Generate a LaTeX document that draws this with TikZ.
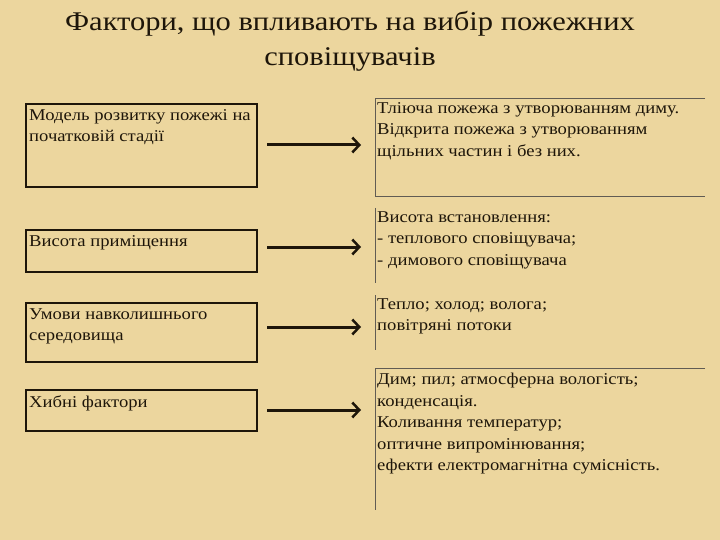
\documentclass[tikz,border=0pt]{standalone}
\usepackage{fontspec}
\setmainfont{Liberation Serif}[FakeStretch=1.13]
\definecolor{bg}{RGB}{236,214,158}
\definecolor{ink}{RGB}{30,22,10}
\usetikzlibrary{arrows.meta}
\tikzset{
  lbox/.style={draw=ink,line width=1.3pt},
  rline/.style={draw=ink!70,line width=0.7pt},
  txt/.style={anchor=north west,align=left,font=\fontsize{16.5}{21.5}\selectfont,text=ink,inner sep=0pt},
  arr/.style={draw=ink,line width=3pt,-{Straight Barb[length=7pt,width=15pt,line width=2.5pt]}},
}
\begin{document}
\begin{tikzpicture}[x=1pt,y=-1pt]
\fill[bg] (0,0) rectangle (720,540);
\useasboundingbox (0,0) rectangle (720,540);
\node[font=\fontsize{27}{35}\selectfont,align=center,text=ink] (title) at (350,41) {Фактори, що впливають на вибір пожежних\\сповіщувачів};
\draw[lbox] (26,104) rectangle (257,187);
\draw[lbox] (26,230) rectangle (257,272);
\draw[lbox] (26,303) rectangle (257,362);
\draw[lbox] (26,390) rectangle (257,431);
\node[txt] (l1) at (29,109) {Модель розвитку пожежі на\\початковій стадії};
\node[txt] (l2) at (29,235) {Висота приміщення};
\node[txt] (l3) at (29,308) {Умови навколишнього\\середовища};
\node[txt] (l4) at (29,395) {Хибні фактори};
\draw[rline] (705,98) -- (375,98) -- (375,196) -- (705,196);
\draw[rline] (375,208) -- (375,283);
\draw[rline] (375,295) -- (375,350);
\draw[rline] (705,368) -- (375,368) -- (375,510);
\node[txt] (r1) at (377,102) {Тліюча пожежа з утворюванням диму.\\Відкрита пожежа з утворюванням\\щільних частин і без них.};
\node[txt] (r2) at (377,211) {Висота встановлення:\\- теплового сповіщувача;\\- димового сповіщувача};
\node[txt] (r3) at (377,298) {Тепло; холод; волога;\\повітряні потоки};
\node[txt] (r4) at (377,373) {Дим; пил; атмосферна вологість;\\конденсація.\\Коливання температур;\\оптичне випромінювання;\\ефекти електромагнітна сумісність.};
\coordinate (a1s) at (267,145); \coordinate (a1e) at (361,145);
\coordinate (a2s) at (267,247); \coordinate (a2e) at (361,247);
\coordinate (a3s) at (267,327); \coordinate (a3e) at (361,327);
\coordinate (a4s) at (267,410); \coordinate (a4e) at (361,410);
\draw[arr] (a1s) -- (a1e);
\draw[arr] (a2s) -- (a2e);
\draw[arr] (a3s) -- (a3e);
\draw[arr] (a4s) -- (a4e);
\end{tikzpicture}
\end{document}
